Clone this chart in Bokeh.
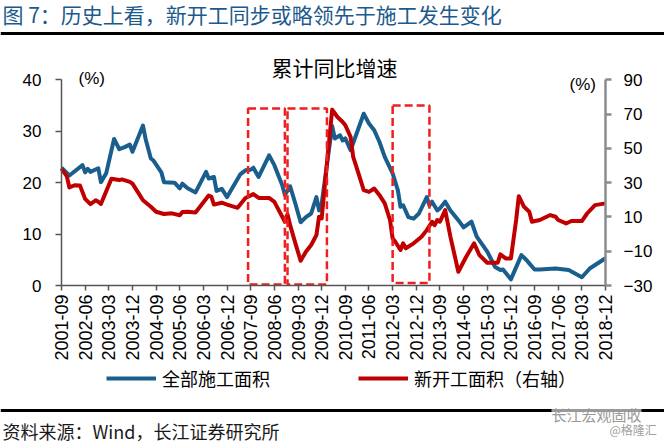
import math
from bokeh.plotting import figure
from bokeh.models import (Range1d, LinearAxis, FixedTicker, Label, Legend,
                          LegendItem, BoxAnnotation, ColumnDataSource)
from bokeh.embed import file_html
from bokeh.resources import INLINE

# ---------------- data ----------------
tick_labels = ["2001-09", "2002-06", "2003-03", "2003-12", "2004-09", "2005-06",
               "2006-03", "2006-12", "2007-09", "2008-06", "2009-03", "2009-12",
               "2010-09", "2011-06", "2012-03", "2012-12", "2013-09", "2014-06",
               "2015-03", "2015-12", "2016-09", "2017-06", "2018-03", "2018-12"]

left_ticks = [0, 10, 20, 30, 40]
right_ticks = [-30, -10, 10, 30, 50, 70, 90]

# 全部施工面积 累计同比 (%), left axis
blue_dates = ["2001-09", "2001-12", "2002-05", "2002-06", "2002-07", "2002-08",
              "2002-11", "2002-12", "2003-02", "2003-05", "2003-07", "2003-09",
              "2003-11", "2003-12", "2004-04", "2004-05", "2004-07", "2004-08",
              "2004-11", "2004-12", "2005-04", "2005-06", "2005-07", "2005-09",
              "2005-12", "2006-04", "2006-05", "2006-07", "2006-08", "2006-10",
              "2006-12", "2007-05", "2007-07", "2007-09", "2007-10", "2007-12",
              "2008-04", "2008-06", "2008-09", "2008-10", "2008-12", "2009-02",
              "2009-04", "2009-06", "2009-08", "2009-10", "2009-11", "2009-12",
              "2010-04", "2010-05", "2010-07", "2010-08", "2010-09", "2010-11",
              "2011-04", "2011-06", "2011-08", "2011-10", "2011-12", "2012-03",
              "2012-05", "2012-06", "2012-07", "2012-09", "2012-11", "2013-01",
              "2013-04", "2013-05", "2013-06", "2013-08", "2013-09", "2013-11",
              "2014-01", "2014-04", "2014-06", "2014-09", "2014-11", "2015-03",
              "2015-06", "2015-08", "2015-09", "2015-12", "2016-04", "2016-06",
              "2016-07", "2016-09", "2016-11", "2017-05", "2017-10", "2018-03",
              "2018-06", "2018-12"]
blue_values = [22.9, 21.4, 23.4, 22.0, 22.7, 22.1,
               22.8, 20.1, 21.8, 28.5, 26.5, 26.9,
               27.4, 26.0, 31.1, 28.5, 24.7, 24.3,
               22.0, 20.1, 20.0, 18.9, 19.8, 18.9,
               18.1, 22.1, 20.8, 21.1, 18.4, 18.8,
               17.2, 21.6, 22.4, 22.5, 22.9, 21.1,
               25.3, 23.4, 19.5, 17.6, 19.3, 15.9,
               12.3, 13.3, 14.0, 17.2, 14.6, 15.9,
               31.0, 28.6, 29.2, 28.2, 28.6, 26.3,
               33.4, 31.5, 30.2, 27.9, 25.0, 21.8,
               18.5, 15.3, 15.6, 13.3, 13.0, 14.0,
               17.2, 15.6, 16.3, 14.6, 15.0, 16.3,
               14.6, 12.7, 11.3, 12.4, 9.5, 6.6,
               3.6, 3.0, 3.1, 1.2, 5.9, 4.9,
               4.3, 3.1, 3.1, 3.3, 3.0, 1.6,
               3.3, 5.3]

# 新开工面积 累计同比 (%), right axis
red_dates = ["2001-09", "2001-11", "2001-12", "2002-02", "2002-04", "2002-06",
             "2002-08", "2002-10", "2002-11", "2002-12", "2003-04", "2003-07",
             "2003-08", "2003-11", "2003-12", "2004-02", "2004-04", "2004-07",
             "2004-09", "2004-12", "2005-03", "2005-06", "2005-07", "2005-09",
             "2005-12", "2006-05", "2006-06", "2006-07", "2006-10", "2006-12",
             "2007-04", "2007-07", "2007-10", "2007-12", "2008-04", "2008-06",
             "2008-10", "2008-11", "2008-12", "2009-02", "2009-04", "2009-06",
             "2009-08", "2009-10", "2009-11", "2009-12", "2010-02", "2010-04",
             "2010-06", "2010-08", "2010-09", "2010-11", "2010-12", "2011-02",
             "2011-04", "2011-06", "2011-08", "2011-10", "2011-12", "2012-02",
             "2012-03", "2012-04", "2012-06", "2012-07", "2012-08", "2012-11",
             "2013-02", "2013-04", "2013-06", "2013-07", "2013-08", "2013-09",
             "2013-11", "2014-01", "2014-04", "2014-07", "2014-10", "2014-12",
             "2015-03", "2015-05", "2015-07", "2015-08", "2015-10", "2015-12",
             "2016-02", "2016-03", "2016-05", "2016-07", "2016-08", "2016-11",
             "2017-03", "2017-05", "2017-06", "2017-09", "2017-11", "2018-03",
             "2018-05", "2018-08", "2018-12"]
red_values = [38.0, 33.8, 27.2, 28.5, 28.4, 20.5,
              17.5, 19.7, 18.8, 17.5, 32.3, 31.5,
              31.9, 30.5, 29.4, 24.6, 19.7, 15.9,
              13.0, 11.7, 12.1, 11.0, 12.9, 13.0,
              12.6, 22.5, 21.9, 17.2, 18.3, 17.2,
              15.3, 21.0, 23.3, 21.1, 21.1, 18.8,
              7.2, 11.6, 5.2, -5.4, -15.6, -10.3,
              -6.4, -0.6, 10.1, 9.1, 41.2, 72.6,
              68.3, 65.4, 63.5, 56.7, 45.0, 35.4,
              25.6, 24.6, 26.6, 22.7, 17.9, 8.2,
              -2.5, -4.5, -9.3, -5.4, -8.3, -5.4,
              -1.6, 2.3, 7.2, 5.2, 8.2, 7.2,
              14.0, -1.6, -22.0, -13.2, -5.4, -12.2,
              -16.7, -16.7, -16.7, -11.8, -14.2, -14.2,
              8.2, 22.1, 15.9, 13.0, 7.2, 8.2,
              11.1, 10.1, 8.2, 6.2, 7.6, 7.6,
              12.0, 16.9, 17.9]

# highlighted periods (dashed boxes, left-axis scale)
box_start = ["2007-08", "2008-11", "2012-03"]
box_end = ["2008-10", "2010-02", "2013-05"]
box_bottom = [0.2, 0.2, 0.5]
box_top = [34.4, 34.4, 35.0]

series_names = ["全部施工面积", "新开工面积（右轴）"]
title_text = "图 7：历史上看，新开工同步或略领先于施工发生变化"
chart_title = "累计同比增速"
source_text = "资料来源：Wind，长江证券研究所"


def month_index(s):
    y, m = s.split("-")
    return (int(y) - 2001) * 12 + int(m) - 9


# ---------------- styles / layout constants ----------------
BLUE = "#195E8C"
RED = "#C00000"
BOXRED = "#F01E1E"
CJK = "Noto Sans CJK SC"
LAT = "Liberation Sans"

W, H = 664, 443
X_LEFT, X_RIGHT = 61, 605        # page x of first / last month
Y_ZERO, Y_TOP = 285, 79.3        # page y of left-axis 0 and 40

ticks_x = [month_index(t) for t in tick_labels]
m0, m1 = ticks_x[0], ticks_x[-1]
kx = (X_RIGHT - X_LEFT) / (m1 - m0)
ppu_l = (Y_ZERO - Y_TOP) / (left_ticks[-1] - left_ticks[0])
ppu_r = (Y_ZERO - Y_TOP) / (right_ticks[-1] - right_ticks[0])

x_range = Range1d(m0 - X_LEFT / kx, m1 + (W - X_RIGHT) / kx)
y_range = Range1d(left_ticks[0] - (H - Y_ZERO) / ppu_l, left_ticks[0] + Y_ZERO / ppu_l)
r_range = Range1d(right_ticks[0] - (H - Y_ZERO) / ppu_r, right_ticks[0] + Y_ZERO / ppu_r)

p = figure(width=W, height=H, output_backend="svg", toolbar_location=None,
           x_axis_type=None, y_axis_type=None, x_range=x_range, y_range=y_range,
           min_border=0)
p.extra_y_ranges = {"right": r_range}
p.outline_line_color = None
p.background_fill_color = "white"
p.border_fill_color = "white"


def style_axis(ax, color, lw, tick_out, standoff, size):
    ax.axis_line_color = color
    ax.axis_line_width = lw
    ax.major_tick_line_color = color
    ax.major_tick_line_width = lw
    ax.major_tick_out = tick_out
    ax.major_tick_in = 0
    ax.minor_tick_line_color = None
    ax.major_label_standoff = standoff
    ax.major_label_text_font = LAT
    ax.major_label_text_font_size = size
    ax.major_label_text_color = "black"


xa = LinearAxis(ticker=FixedTicker(ticks=ticks_x), fixed_location=left_ticks[0],
                bounds=(m0, m1))
xa.major_label_overrides = {t: lab for t, lab in zip(ticks_x, tick_labels)}
xa.major_label_orientation = math.pi / 2
style_axis(xa, "#555555", 1.5, 5, 4, "18px")
p.add_layout(xa, "below")

ya = LinearAxis(ticker=FixedTicker(ticks=left_ticks), fixed_location=m0,
                bounds=(left_ticks[0], left_ticks[-1]))
style_axis(ya, "#555555", 1.5, 6, 14, "17px")
p.add_layout(ya, "left")

ra = LinearAxis(y_range_name="right", ticker=FixedTicker(ticks=right_ticks),
                fixed_location=m1, bounds=(right_ticks[0], right_ticks[-1]))
style_axis(ra, "#8C8C8C", 2.5, 6, 12, "17px")
p.add_layout(ra, "right")

# ---------------- series ----------------
bsrc = ColumnDataSource(dict(x=[month_index(d) for d in blue_dates], y=blue_values))
rsrc = ColumnDataSource(dict(x=[month_index(d) for d in red_dates], y=red_values))
b = p.line("x", "y", source=bsrc, line_color=BLUE, line_width=4, line_join="round")
r = p.line("x", "y", source=rsrc, line_color=RED, line_width=4, line_join="round",
           y_range_name="right")
p.quad(left=[month_index(d) for d in box_start], right=[month_index(d) for d in box_end],
       bottom=box_bottom, top=box_top, fill_color=None, line_color=BOXRED,
       line_width=2.5, line_dash="8 4")

# ---------------- legend ----------------
legend = Legend(items=[LegendItem(label=series_names[0], renderers=[b]),
                       LegendItem(label=series_names[1], renderers=[r])],
                location=(106, H - 391), orientation="horizontal",
                glyph_width=50, glyph_height=20, label_height=20,
                label_standoff=6, spacing=88, padding=0, margin=0,
                border_line_color=None, background_fill_alpha=0,
                label_text_font=CJK, label_text_font_size="18px",
                label_text_color="black")
p.add_layout(legend)


# ---------------- texts & rules (page pixels; y measured from top) ----------------
def add_label(text, x, y, size, font=CJK, color="black", align="left", **kw):
    p.add_layout(Label(x=x, y=H - y, x_units="screen", y_units="screen",
                       text=text, text_font=font, text_font_size=size,
                       text_color=color, text_align=align, text_baseline="middle", **kw))


def add_rule(x0, x1, y_top, y_bot):
    p.add_layout(BoxAnnotation(left=x0, right=x1, top=H - y_top, bottom=H - y_bot,
                               left_units="screen", right_units="screen",
                               top_units="screen", bottom_units="screen",
                               fill_color="black", fill_alpha=1, line_color=None))


add_label(title_text, 2, 13, "21px", color="#1D5A8C")
add_rule(0, W, 31.5, 34.5)
add_label(chart_title, 334, 66, "21px", align="center")
add_label("(%)", 78, 77.5, "17px", font=LAT)
add_label("(%)", 569, 84, "17px", font=LAT)
add_rule(0, W, 408.5, 411.5)
add_label(source_text, 2, 430, "18px", color="#1A1A1A")
add_label("长江宏观固收", 551, 414, "15px", color="#9A9A9A",
          background_fill_color="white", background_fill_alpha=0.6)
add_label("@格隆汇", 609, 429, "12px", color="#A0A0A0")

open("out.html", "w").write(file_html(p, INLINE))
